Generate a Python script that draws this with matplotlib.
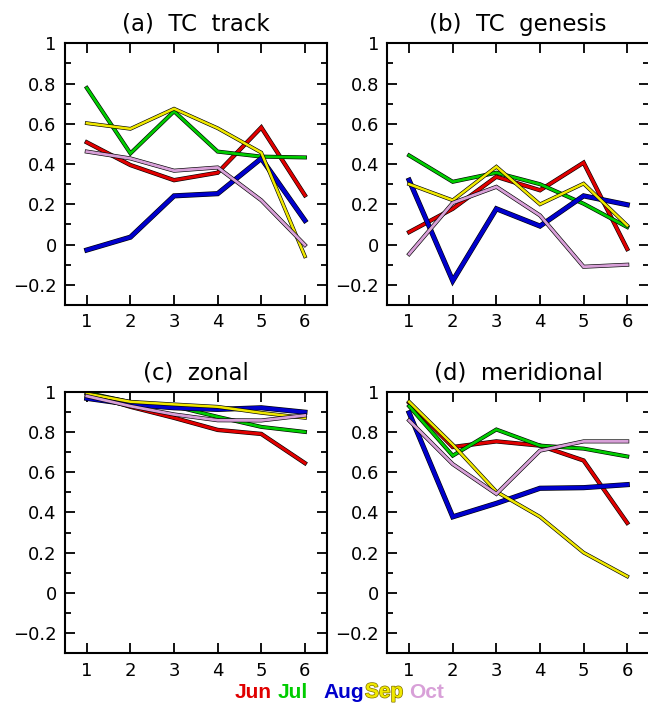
import matplotlib
matplotlib.use("Agg")
import matplotlib.pyplot as plt
import matplotlib.patheffects as pe
from matplotlib.ticker import MultipleLocator

months = ["Jun", "Jul", "Aug", "Sep", "Oct"]
colors = ["#e00000", "#00cc00", "#0000cc", "#f0e800", "#d8a0d8"]
widths = [2.2, 2.0, 2.8, 1.8, 2.0]
lead = [1, 2, 3, 4, 5, 6]

titles = ["(a)  TC  track", "(b)  TC  genesis", "(c)  zonal", "(d)  meridional"]
ytick_vals = [-0.2, 0, 0.2, 0.4, 0.6, 0.8, 1.0]
ytick_text = ["\u22120.2", "0", "0.2", "0.4", "0.6", "0.8", "1"]

track = [
    [0.508, 0.395, 0.320, 0.357, 0.582, 0.245],
    [0.778, 0.453, 0.662, 0.462, 0.437, 0.433],
    [-0.027, 0.037, 0.242, 0.253, 0.428, 0.120],
    [0.603, 0.575, 0.675, 0.578, 0.457, -0.058],
    [0.462, 0.428, 0.367, 0.383, 0.220, -0.002],
]
genesis = [
    [0.062, 0.178, 0.337, 0.270, 0.407, -0.022],
    [0.443, 0.312, 0.357, 0.300, 0.203, 0.087],
    [0.320, -0.180, 0.178, 0.092, 0.242, 0.198],
    [0.300, 0.220, 0.387, 0.200, 0.303, 0.095],
    [-0.047, 0.207, 0.287, 0.145, -0.110, -0.100],
]
zonal = [
    [0.990, 0.925, 0.870, 0.810, 0.790, 0.645],
    [0.995, 0.948, 0.928, 0.875, 0.825, 0.800],
    [0.967, 0.937, 0.920, 0.912, 0.920, 0.898],
    [0.990, 0.950, 0.937, 0.925, 0.895, 0.870],
    [0.978, 0.928, 0.887, 0.858, 0.857, 0.882],
]
meridional = [
    [0.945, 0.725, 0.753, 0.732, 0.658, 0.348],
    [0.928, 0.682, 0.812, 0.732, 0.717, 0.678],
    [0.895, 0.378, 0.445, 0.520, 0.523, 0.538],
    [0.950, 0.737, 0.503, 0.378, 0.200, 0.082],
    [0.857, 0.640, 0.492, 0.707, 0.753, 0.753],
]
panels = [track, genesis, zonal, meridional]

fig = plt.figure(figsize=(6.48, 7.06), dpi=100)
positions = [
    [0.1003, 0.568, 0.4039, 0.3707],
    [0.5977, 0.568, 0.4039, 0.3707],
    [0.1003, 0.0747, 0.4039, 0.3705],
    [0.5977, 0.0747, 0.4039, 0.3705],
]

for pos, title, data in zip(positions, titles, panels):
    ax = fig.add_axes(pos)
    for vals, c, lw in zip(data, colors, widths):
        ax.plot(lead, vals, color=c, lw=lw, solid_joinstyle="miter",
                path_effects=[pe.Stroke(linewidth=lw + 0.9, foreground="black"), pe.Normal()])
    ax.set_xlim(0.5, 6.5)
    ax.set_ylim(-0.3, 1.0)
    ax.set_xticks(lead)
    ax.yaxis.set_minor_locator(MultipleLocator(0.1))
    ax.set_yticks(ytick_vals)
    ax.set_yticklabels(ytick_text)
    ax.tick_params(axis="both", which="major", direction="in", length=7.5, width=1.3,
                   top=True, right=True, labelsize=13, pad=6)
    ax.tick_params(axis="y", which="minor", direction="in", length=4, width=1.3, right=True)
    ax.tick_params(axis="x", which="minor", bottom=False, top=False)
    for s in ax.spines.values():
        s.set_linewidth(1.5)
    ax.set_title(title, fontsize=16.5, pad=9)

# colour-coded month labels along the bottom, left edges
legend_x = [235, 278, 323, 365, 409]
for name, c, x in zip(months, colors, legend_x):
    t = fig.text(x / 648, 1 - 692 / 706, name, color=c, fontsize=15, fontweight="bold",
                 family="Liberation Sans", ha="left", va="center")
    if name == "Sep":
        t.set_path_effects([pe.Stroke(linewidth=1.0, foreground="#807000"), pe.Normal()])

fig.savefig("out.png", dpi=100)
